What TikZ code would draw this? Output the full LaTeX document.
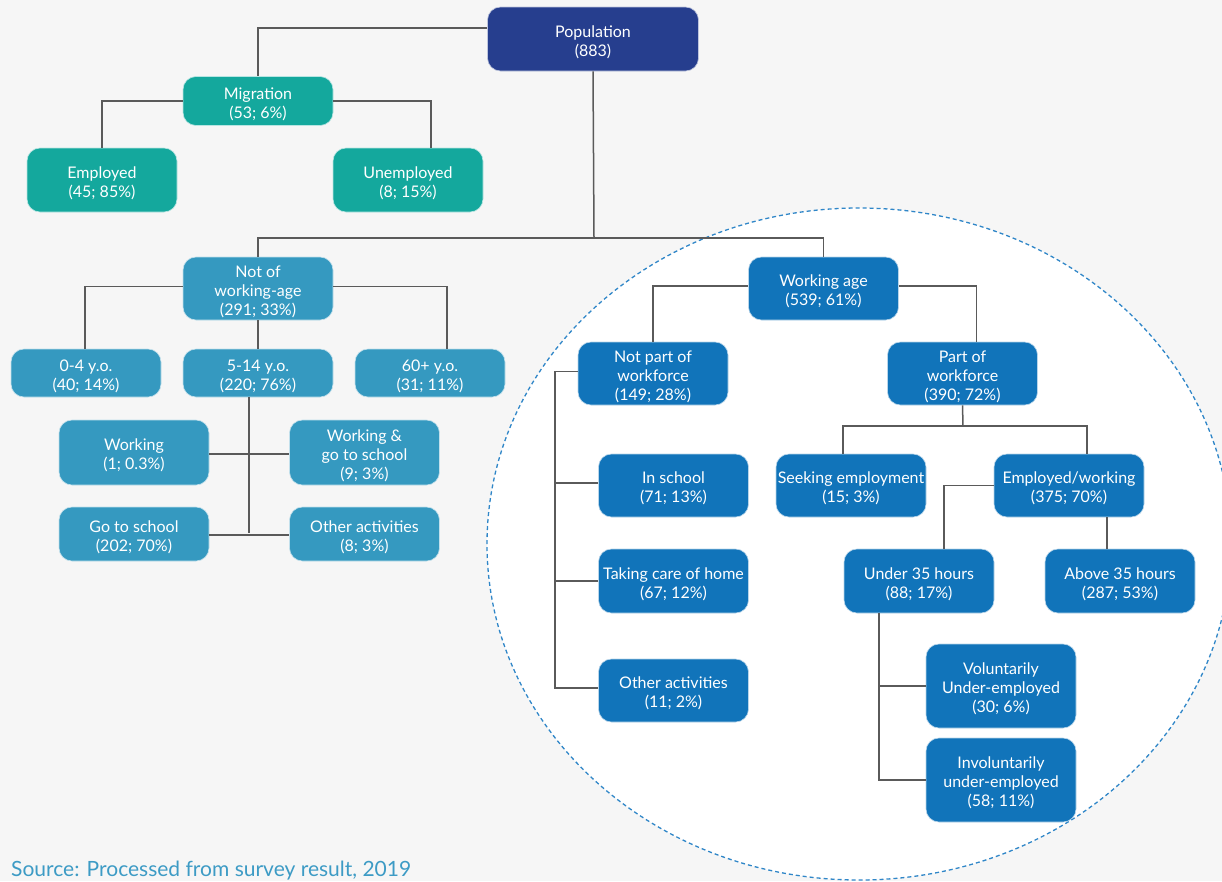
\documentclass[tikz,border=0pt]{standalone}
\usepackage{fontspec}
\setmainfont{Lato}
\usetikzlibrary{calc}
\definecolor{bgc}{HTML}{F6F6F6}
\definecolor{navyc}{HTML}{263E8E}
\definecolor{tealc}{HTML}{14A89D}
\definecolor{lbluec}{HTML}{3599C0}
\definecolor{bluec}{HTML}{1174BA}
\definecolor{linec}{HTML}{5A5A5A}
\definecolor{dashc}{HTML}{2F86C8}
\definecolor{srcc}{HTML}{3D9BC5}
\newcommand\tp{\rule{0pt}{18pt}}
\tikzset{
  box/.style={rounded corners=13pt, inner sep=0pt, minimum width=150pt, minimum height=63pt,
    text=white, align=center, font=\fontsize{16}{19}\selectfont, draw=white!70!#1, line width=0.6pt, fill=#1},
  conn/.style={draw=linec, line width=1.5pt}
}
\begin{document}
\begin{tikzpicture}[x=1pt,y=-1pt]
\fill[bgc] (0,0) rectangle (1222,881);
\useasboundingbox (0,0) rectangle (1222,881);
\begin{scope}
\clip (0,0) rectangle (1222,881);
\draw[fill=white, draw=dashc, line width=1.3pt, dash pattern=on 4pt off 3pt] (859,544) ellipse [x radius=372, y radius=336];
\end{scope}

% nodes
\node[box=navyc, minimum width=211pt, minimum height=64pt] (pop) at (593,39) {\tp Population\\(883)};
\node[box=tealc, minimum height=49pt] (mig) at (258,101) {\tp Migration\\(53; 6\%)};
\node[box=tealc, minimum height=64pt] (emp) at (102,180) {\tp Employed\\(45; 85\%)};
\node[box=tealc, minimum height=64pt] (unemp) at (408,180) {\tp Unemployed\\(8; 15\%)};

\node[box=lbluec] (nwa) at (258,288.5) {\tp Not of\\working-age\\(291; 33\%)};
\node[box=lbluec, minimum height=48pt] (a04) at (86,373) {\tp 0-4 y.o.\\(40; 14\%)};
\node[box=lbluec, minimum height=48pt] (a514) at (258,373) {\tp 5-14 y.o.\\(220; 76\%)};
\node[box=lbluec, minimum height=48pt] (a60) at (430,373) {\tp 60+ y.o.\\(31; 11\%)};
\node[box=lbluec, minimum height=65pt] (wrk) at (134,452.5) {\tp Working\\(1; 0.3\%)};
\node[box=lbluec, minimum height=65pt] (wgs) at (364.5,452.5) {\tp Working \&\\go to school\\(9; 3\%)};
\node[box=lbluec, minimum height=54pt] (gts) at (134,534) {\tp Go to school\\(202; 70\%)};
\node[box=lbluec, minimum height=54pt] (oth1) at (364.5,534) {\tp Other activities\\(8; 3\%)};

\node[box=bluec] (wa) at (823.5,288.5) {\tp Working age\\(539; 61\%)};
\node[box=bluec] (npw) at (653,373.5) {\tp Not part of\\workforce\\(149; 28\%)};
\node[box=bluec] (pw) at (962.5,373.5) {\tp Part of\\workforce\\(390; 72\%)};
\node[box=bluec] (insch) at (673.5,485.5) {\tp In school\\(71; 13\%)};
\node[box=bluec, minimum height=64pt] (care) at (673.5,581) {\tp Taking care of home\\(67; 12\%)};
\node[box=bluec] (oth2) at (673.5,690.5) {\tp Other activities\\(11; 2\%)};
\node[box=bluec] (seek) at (851,485.5) {\tp Seeking employment\\(15; 3\%)};
\node[box=bluec] (ew) at (1069,485.5) {\tp Employed/working\\(375; 70\%)};
\node[box=bluec, minimum height=64pt] (u35) at (919,581) {\tp Under 35 hours\\(88; 17\%)};
\node[box=bluec, minimum height=64pt] (a35) at (1120,581) {\tp Above 35 hours\\(287; 53\%)};
\node[box=bluec, minimum height=84pt] (vol) at (1001,686) {\tp Voluntarily\\Under-employed\\(30; 6\%)};
\node[box=bluec, minimum height=84pt] (invol) at (1001,780) {\tp Involuntarily\\under-employed\\(58; 11\%)};

\node[anchor=base west, inner sep=0pt, text=srcc, font=\fontsize{21}{24}\selectfont] (src) at (11,876) {Source: Processed from survey result, 2019};

% connectors
\coordinate (j1) at (594,238);
\coordinate (j2) at (249,533);
\coordinate (j3) at (963,426);
\coordinate (u35x) at (879,613);
\coordinate (npx) at (555,373);

\draw[conn] ([yshift=11pt]pop.west) -| (mig.north);
\draw[conn] (mig.west) -| (emp.north);
\draw[conn] (mig.east) -| ([xshift=23pt]unemp.north);
\draw[conn] (pop.south) -- (j1);
\draw[conn] (nwa.north) |- (j1) -| (wa.north);
\draw[conn] ([yshift=2pt]nwa.west) -| ([xshift=-1pt]a04.north);
\draw[conn] ([yshift=2pt]nwa.east) -| ([xshift=17pt]a60.north);
\draw[conn] (nwa.south) -- (a514.north);
\draw[conn] ([xshift=-9pt]a514.south) -- (j2);
\draw[conn] ([yshift=-1.5pt]wrk.east) -- ([yshift=-1.5pt]wgs.west);
\draw[conn] ([yshift=-1pt]gts.east) -- ([yshift=-1pt]oth1.west);
\draw[conn] ([yshift=2.5pt]wa.west) -| (npw.north);
\draw[conn] ([yshift=2.5pt]wa.east) -| ([xshift=14pt]pw.north);
\draw[conn] (pw.south) -- (j3);
\draw[conn] ([xshift=-8pt]seek.north) |- (j3) -| ([xshift=18pt]ew.north);
\draw[conn] (ew.west) -| ([xshift=25pt]u35.north);
\draw[conn] ([xshift=38pt]ew.south) -- ([xshift=38pt]ew.south |- a35.north);
\draw[conn] (u35x) |- (invol.west);
\draw[conn] (vol.west) -- (vol.west -| u35x);
\draw[conn] ([yshift=2pt]npw.west) -| (npx) |- ([yshift=2.5pt]oth2.west);
\draw[conn] ([yshift=2.5pt]insch.west) -- ([yshift=2.5pt]insch.west -| npx);
\draw[conn] (care.west) -- (care.west -| npx);
\end{tikzpicture}
\end{document}
